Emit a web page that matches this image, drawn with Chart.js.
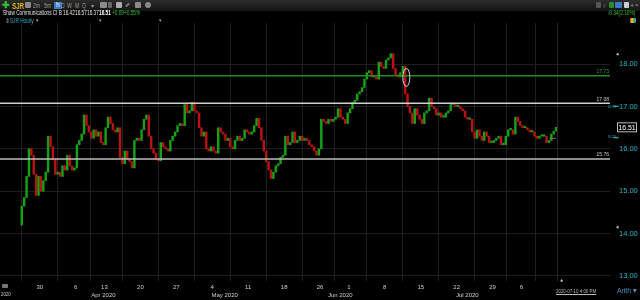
<!DOCTYPE html>
<html>
<head>
<meta charset="utf-8">
<script src="https://cdn.jsdelivr.net/npm/chart.js@4.4.1/dist/chart.umd.min.js"></script>
<style>
  html, body { margin:0; padding:0; background:#000; }
  #wrap { position:relative; width:640px; height:300px; overflow:hidden; background:#000; font-family:"Liberation Sans",Arial,sans-serif; }
  canvas { position:absolute; left:0; top:0; }
  .t { position:absolute; white-space:nowrap; line-height:1; transform:scaleX(0.72); transform-origin:left top; }
  #toolbar { position:absolute; left:0; top:0; width:640px; height:11px; background:linear-gradient(#2c2c2c,#141414); }
  .ic { position:absolute; top:2px; width:6px; height:6px; background:#8a8a8a; border-radius:1px; }
</style>
</head>
<body>
<div id="wrap">
  <canvas id="c" width="640" height="300"></canvas>
  <div id="toolbar"></div>
  <span class="t" style="left:2px;top:1px;font-size:9px;color:#35c035;font-weight:bold;transform:none;">&#10010;</span>
  <span class="t" style="left:12px;top:1.5px;font-size:8.5px;color:#d9b52a;font-weight:bold;">SJR</span>
  <span class="ic" style="left:25px;"></span>
  <span class="t" style="left:33px;top:2.3px;font-size:7px;color:#9a9a9a;">2m</span>
  <span class="t" style="left:44px;top:2.3px;font-size:7px;color:#9a9a9a;">5m</span>
  <span class="t" style="left:54px;top:1.5px;font-size:6.5px;color:#fff;background:#3a78c8;padding:0.5px 2px;transform:none;">h</span>
  <span class="t" style="left:61px;top:2.3px;font-size:7px;color:#9a9a9a;">D</span>
  <span class="t" style="left:67px;top:2.3px;font-size:7px;color:#9a9a9a;">W</span>
  <span class="t" style="left:75px;top:2.3px;font-size:7px;color:#9a9a9a;">M</span>
  <span class="t" style="left:82px;top:2.3px;font-size:7px;color:#9a9a9a;">Q</span>
  <span class="t" style="left:91px;top:2.5px;font-size:6px;color:#9a9a9a;transform:none;">&#9662;</span>
  <span class="ic" style="left:100px;width:7px;"></span>
  <span class="ic" style="left:108px;width:4px;background:#666;"></span>
  <span class="ic" style="left:116px;width:6px;background:#aaa;"></span>
  <span class="ic" style="left:125px;width:5px;background:#777;transform:rotate(-45deg);height:2px;top:4px;"></span>
  <span class="ic" style="left:135px;width:6px;"></span>
  <span class="ic" style="left:145px;width:6px;border-radius:3px;"></span>
  <span class="ic" style="left:596px;width:5px;background:#555;"></span>
  <span class="t" style="left:603px;top:2.5px;font-size:6px;color:#888;">Y</span>
  <span class="ic" style="left:609px;width:5px;background:#2a8a2a;"></span>
  <span class="ic" style="left:615px;width:7px;background:#3a78c8;"></span>
  <span class="ic" style="left:624px;width:5px;background:#ccc;"></span>
  <span class="t" style="left:630px;top:2px;font-size:7px;color:#999;transform:none;">+</span>
  <span class="t" style="left:635px;top:2px;font-size:6px;color:#999;transform:none;">&#215;</span>

  <span class="t" style="left:3px;top:10px;font-size:6.6px;color:#e0e0e0;">Shaw Communications Cl B</span>
  <span class="t" style="left:63px;top:10px;font-size:6.6px;color:#e0e0e0;">16.42</span>
  <span class="t" style="left:75px;top:10px;font-size:6.6px;color:#e0e0e0;">16.57</span>
  <span class="t" style="left:87px;top:10px;font-size:6.6px;color:#e0e0e0;">16.37</span>
  <span class="t" style="left:99px;top:10px;font-size:6.6px;color:#fff;font-weight:bold;">16.51</span>
  <span class="t" style="left:112px;top:10px;font-size:6.6px;color:#2fc02f;">+0.09</span>
  <span class="t" style="left:124px;top:10px;font-size:6.6px;color:#2fc02f;">+0.55%</span>
  <span class="t" style="left:607px;top:10px;font-size:6.6px;color:#2fc02f;">&#8593;0.34(2.10%)</span>

  <span class="t" style="left:5px;top:17.5px;font-size:6px;color:#aaa;transform:none;">&#8661;</span>
  <span class="t" style="left:10px;top:17.5px;font-size:6.5px;color:#2bb0c0;">SJR Hourly</span>
  <span class="t" style="left:36px;top:17.5px;font-size:5px;color:#aaa;transform:none;">&#9662;</span>
  <span class="t" style="left:99px;top:17.5px;font-size:5px;color:#aaa;transform:none;">&#9662;</span>
  <span class="t" style="left:159px;top:17.5px;font-size:5px;color:#aaa;transform:none;">&#9662;</span>
  <span class="ic" style="left:630px;top:18px;width:6px;height:5px;background:linear-gradient(90deg,#d33,#fc3,#3a3,#39f);"></span>

  <span class="t" style="left:1px;top:291px;font-size:6px;color:#ccc;">2020</span>
  <span class="ic" style="left:2px;top:284px;width:6px;height:4px;background:#777;"></span>
  <span class="t" style="left:556px;top:288.5px;font-size:5.5px;color:#bbb;text-decoration:underline;transform:scaleX(0.8);">2020-07-10 4:00 PM</span>
  <span class="t" style="left:617px;top:287px;font-size:7.5px;color:#4f95c8;transform:scaleX(0.9);">Arith &#9662;</span>
</div>
<script>
// ---- data ----
const weekTicks  = [0, 5, 9, 14, 19, 24, 29, 34, 39, 43, 48, 53, 58, 63, 67];
const weekLabels = ['30','6','13','20','27','4','11','18','26','1','8','15','22','29','6'];
const monthTicks  = [2, 23, 43, 65];
const monthLabels = ['Apr 2020','May 2020','Jun 2020','Jul 2020'];
const priceTicks = [13, 14, 15, 16, 17, 18];
const levelValues = [17.73, 17.08, 15.76];
const levelLabels = ['17.73', '17.08', '15.76'];
const lastPrice = 16.51;
const firstOpen = 14.2;
const barsPerDay = 3;
const startDay = -2.667;
const closes = [
 14.65,14.85,15.35,16.0,15.85,15.4,14.9,15.35,15.0,15.25,15.45,16.3,16.05,15.75,15.4,15.45,15.35,15.6,15.5,15.85,
 15.6,15.5,15.55,16.1,16.2,16.35,16.8,16.55,16.4,16.25,16.45,16.3,16.4,16.15,16.1,16.5,16.75,16.6,16.45,16.4,
 16.5,15.8,15.65,15.95,15.75,15.7,15.55,16.2,16.25,16.2,16.45,16.7,16.8,16.3,16.0,15.9,15.75,15.72,16.15,16.05,
 16.0,15.95,16.2,16.3,16.4,16.55,16.6,16.55,17.05,16.85,16.9,17.1,16.9,16.85,16.5,16.3,16.4,16.0,15.95,16.05,
 15.95,15.9,16.5,16.4,16.35,16.2,16.25,16.05,16.0,16.2,16.3,16.2,16.25,16.45,16.4,16.35,16.4,16.55,16.72,16.5,
 16.2,15.95,15.7,15.5,15.3,15.45,15.6,15.65,15.8,15.85,16.3,16.1,16.15,16.4,16.15,16.2,16.3,16.2,16.25,16.2,
 16.1,16.05,15.95,15.85,16.0,16.7,16.65,16.6,16.7,16.65,16.7,16.75,16.95,16.75,16.7,16.6,16.85,16.95,17.1,17.15,
 17.3,17.35,17.45,17.65,17.8,17.85,17.7,17.7,17.65,18.05,17.95,17.9,18.1,18.15,18.25,17.9,17.75,17.7,17.8,17.95,
 17.3,17.0,16.85,16.6,16.95,16.8,16.7,16.6,16.85,16.9,17.2,17.0,16.95,16.8,16.85,16.75,16.75,16.85,16.9,17.05,
 17.05,17.0,17.0,16.95,16.9,16.75,16.7,16.7,16.4,16.25,16.45,16.3,16.2,16.4,16.3,16.15,16.15,16.2,16.25,16.3,
 16.1,16.1,16.3,16.45,16.45,16.35,16.75,16.65,16.55,16.5,16.5,16.45,16.4,16.4,16.3,16.25,16.3,16.3,16.3,16.15,
 16.2,16.35,16.42,16.51
];
const lastDay = 72;
const ellipseDay = 51.0, ellipsePrice = 17.69;

const FONT = '"Liberation Sans",Arial,sans-serif';
const UP = '#15a015', DOWN = '#b81212';

const candles = closes.map((c, i) => ({
  x: startDay + (i + 0.5) / barsPerDay,
  y: [i === 0 ? firstOpen : closes[i - 1], c]
}));
const colors = candles.map(p => p.y[1] >= p.y[0] ? UP : DOWN);

const overlay = {
  id: 'overlay',
  afterDatasetsDraw(chart) {
    const { ctx, chartArea: a, scales: { x, y } } = chart;
    ctx.save();
    const nx = Math.round(x.getPixelForValue(lastDay)) + 0.5;
    ctx.strokeStyle = '#262626'; ctx.lineWidth = 1;
    ctx.beginPath(); ctx.moveTo(nx, a.top); ctx.lineTo(nx, a.bottom); ctx.stroke();
    const lc = ['#1f8f1f', '#cfcfcf', '#bdbdbd'];
    const tc = ['#2fa02f', '#d0d0d0', '#c8c8c8'];
    levelValues.forEach((v, k) => {
      const py = y.getPixelForValue(v);
      ctx.strokeStyle = lc[k]; ctx.lineWidth = 1.4;
      ctx.beginPath(); ctx.moveTo(a.left, py); ctx.lineTo(a.right, py); ctx.stroke();
      ctx.fillStyle = tc[k]; ctx.font = '5px ' + FONT;
      ctx.textAlign = 'right'; ctx.textBaseline = 'bottom';
      ctx.fillText(levelLabels[k], a.right - 1, py - 1.5);
    });
    const ex = x.getPixelForValue(ellipseDay), ey = y.getPixelForValue(ellipsePrice);
    ctx.strokeStyle = '#d8d8d8'; ctx.lineWidth = 1;
    ctx.beginPath(); ctx.ellipse(ex, ey, 3.5, 9, 0, 0, Math.PI * 2); ctx.stroke();
    const my = y.getPixelForValue(16.25);
    ctx.strokeStyle = '#777';
    ctx.beginPath(); ctx.moveTo(x.getPixelForValue(70.9), my); ctx.lineTo(x.getPixelForValue(71.8), my); ctx.stroke();
    ctx.restore();
  },
  afterDraw(chart) {
    const { ctx, chartArea: a, scales: { x, y } } = chart;
    ctx.save();
    const py = y.getPixelForValue(lastPrice);
    ctx.fillStyle = '#000'; ctx.strokeStyle = '#bbb'; ctx.lineWidth = 1;
    ctx.fillRect(617.5, py - 4.5, 19, 9); ctx.strokeRect(617.5, py - 4.5, 19, 9);
    ctx.fillStyle = '#fff'; ctx.font = '7px ' + FONT; ctx.textAlign = 'center'; ctx.textBaseline = 'middle';
    ctx.fillText(lastPrice.toFixed(2), 627, py + 0.5);
    ctx.fillStyle = '#2bb0c0'; ctx.font = '3.5px ' + FONT; ctx.textAlign = 'left';
    ctx.fillText('16.99', 607.5, y.getPixelForValue(16.99) + 0.5);
    ctx.fillText('16.25', 607.5, y.getPixelForValue(16.25) - 1);
    ctx.fillRect(613.5, y.getPixelForValue(17.01) - 0.5, 5, 1.3);
    ctx.fillRect(613.5, y.getPixelForValue(16.27) - 0.5, 5, 1.3);
    ctx.fillStyle = '#ddd';
    [18.24, 14.15].forEach(v => {
      const ty = y.getPixelForValue(v);
      ctx.beginPath(); ctx.moveTo(616, ty); ctx.lineTo(618.5, ty - 1.5); ctx.lineTo(618.5, ty + 1.5); ctx.closePath(); ctx.fill();
    });
    const tx = x.getPixelForValue(lastDay + 0.6);
    ctx.beginPath(); ctx.moveTo(tx, a.bottom - 2); ctx.lineTo(tx - 1.5, a.bottom + 0.5); ctx.lineTo(tx + 1.5, a.bottom + 0.5); ctx.closePath(); ctx.fill();
    ctx.restore();
  }
};

new Chart(document.getElementById('c'), {
  type: 'bar',
  data: {
    datasets: [{
      data: candles,
      backgroundColor: colors,
      borderWidth: 0,
      barThickness: 1.8,
      minBarLength: 1.5,
      grouped: false,
      xAxisID: 'x', yAxisID: 'y'
    }]
  },
  options: {
    responsive: false,
    animation: false,
    devicePixelRatio: 1,
    layout: { padding: { top: 23, left: 0, right: 0, bottom: 0 } },
    plugins: { legend: { display: false }, tooltip: { enabled: false } },
    scales: {
      x: {
        type: 'linear', position: 'bottom', min: -2.7, max: 76.5,
        afterBuildTicks: s => { s.ticks = weekTicks.map(v => ({ value: v })); },
        afterFit: s => { s.height = 10; },
        ticks: { callback: (v, i) => weekLabels[i], color: '#cfcfcf', font: { size: 6, family: FONT }, padding: 3, maxRotation: 0, autoSkip: false },
        grid: { color: '#1e1e1e', drawTicks: false },
        border: { display: false }
      },
      x2: {
        type: 'linear', position: 'bottom', min: -2.7, max: 76.5,
        afterBuildTicks: s => { s.ticks = monthTicks.map(v => ({ value: v })); },
        afterFit: s => { s.height = 9; },
        ticks: { callback: (v, i) => monthLabels[i], color: '#cfcfcf', font: { size: 6, family: FONT }, padding: 0.5, maxRotation: 0, autoSkip: false },
        grid: { display: false, drawTicks: false },
        border: { display: false }
      },
      y: {
        type: 'linear', position: 'right', min: 12.877, max: 18.976,
        afterBuildTicks: s => { s.ticks = priceTicks.map(v => ({ value: v })); },
        afterFit: s => { s.width = 30; },
        ticks: { callback: v => Number(v).toFixed(2), color: '#27b4c6', font: { size: 7.5, family: FONT }, padding: 9 },
        grid: { color: '#1e1e1e', drawTicks: false },
        border: { display: false }
      }
    }
  },
  plugins: [overlay]
});
</script>
</body>
</html>
